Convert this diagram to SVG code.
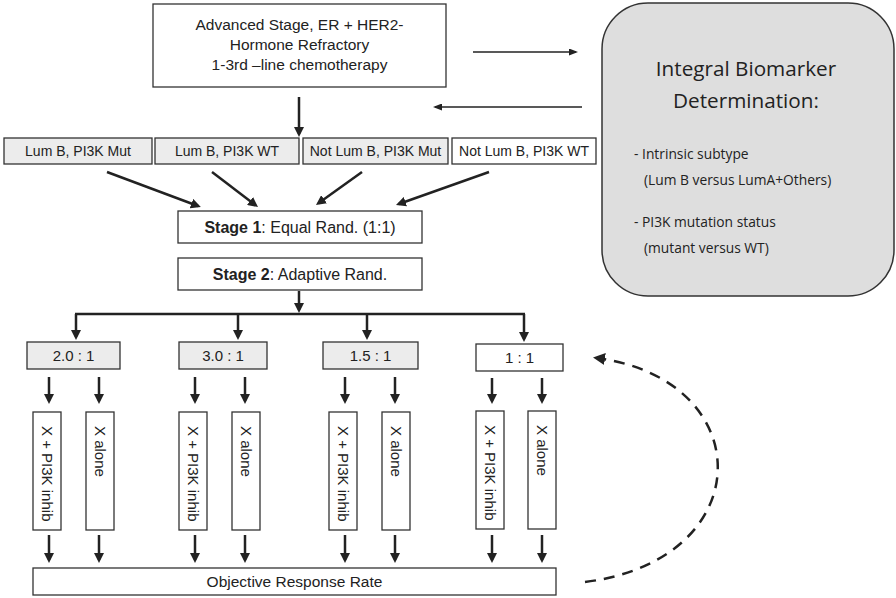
<svg xmlns="http://www.w3.org/2000/svg" width="896" height="598" viewBox="0 0 896 598">
<style>
.box{fill:#fff;stroke:#333;stroke-width:1.3}
.gbox{fill:#ececec;stroke:#333;stroke-width:1.3}
.t{font-family:"Liberation Sans",Arial,sans-serif;fill:#222;text-anchor:middle}
.vt{font-family:"Liberation Sans",Arial,sans-serif;fill:#222;text-anchor:start;font-size:15px}
.c{font-family:"Open Sans","Noto Sans",sans-serif;fill:#222}
.a{stroke:#222;stroke-width:2.5;fill:none;marker-end:url(#ah)}
.thin{stroke:#222;stroke-width:1.3;fill:none;marker-end:url(#ahs)}
.dash{stroke:#222;stroke-width:2.5;fill:none;stroke-dasharray:11 8;marker-end:url(#ahd)}
</style>
<defs>
<marker id="ah" markerUnits="userSpaceOnUse" markerWidth="10" markerHeight="10" viewBox="0 0 10 10" refX="7" refY="5" orient="auto"><path d="M0,0 L10,5 L0,10 z" fill="#222"/></marker>
<marker id="ahs" markerUnits="userSpaceOnUse" markerWidth="9" markerHeight="7" viewBox="0 0 9 7" refX="7" refY="3.5" orient="auto"><path d="M0,0 L9,3.5 L0,7 z" fill="#222"/></marker>
<marker id="ahd" markerUnits="userSpaceOnUse" markerWidth="12" markerHeight="12" viewBox="0 0 12 12" refX="8" refY="6" orient="auto"><path d="M0,0 L12,6 L0,12 z" fill="#222"/></marker>
</defs>

<g id="top">
<rect class="box" x="153" y="4" width="293" height="83"/>
<text class="t" x="299.5" y="30" font-size="15.5">Advanced Stage, ER + HER2-</text>
<text class="t" x="299.5" y="50" font-size="15.5">Hormone Refractory</text>
<text class="t" x="299.5" y="70" font-size="15.5">1-3rd –line chemotherapy</text>
</g>

<g id="biomarker">
<rect x="602" y="3" width="292" height="293" rx="46" ry="46" fill="#dedede" stroke="#333" stroke-width="1.5"/>
<text class="c" x="746" y="76" font-size="20.7" text-anchor="middle">Integral Biomarker</text>
<text class="c" x="746" y="108" font-size="20.7" text-anchor="middle">Determination:</text>
<text class="c" x="634" y="159" font-size="13.8">-  Intrinsic subtype</text>
<text class="c" x="644" y="185" font-size="13.8">(Lum B versus LumA+Others)</text>
<text class="c" x="634" y="227" font-size="13.8">-  PI3K mutation status</text>
<text class="c" x="644" y="253" font-size="13.8">(mutant versus WT)</text>
</g>

<g id="lum1"><rect class="gbox" x="4" y="138" width="148" height="26"/><text class="t" x="78" y="156" font-size="14">Lum B, PI3K Mut</text></g>
<g id="lum2"><rect class="gbox" x="155" y="138" width="144" height="26"/><text class="t" x="227" y="156" font-size="14">Lum B, PI3K WT</text></g>
<g id="lum3"><rect class="gbox" x="303" y="138" width="145" height="26"/><text class="t" x="375.5" y="156" font-size="14">Not Lum B, PI3K Mut</text></g>
<g id="lum4"><rect class="box" x="452" y="138" width="144" height="26"/><text class="t" x="524" y="156" font-size="14">Not Lum B, PI3K WT</text></g>

<g id="stage1"><rect class="box" x="178" y="211" width="244" height="32"/><text class="t" x="300" y="233" font-size="16"><tspan font-weight="bold">Stage 1</tspan>: Equal Rand. (1:1)</text></g>
<g id="stage2"><rect class="box" x="178" y="258" width="244" height="32"/><text class="t" x="300" y="280" font-size="16"><tspan font-weight="bold">Stage 2</tspan>: Adaptive Rand.</text></g>

<g id="r1"><rect class="gbox" x="27" y="342" width="93" height="27"/><text class="t" x="73.5" y="361" font-size="15">2.0 : 1</text></g>
<g id="r2"><rect class="gbox" x="179" y="342" width="88" height="27"/><text class="t" x="223" y="361" font-size="15">3.0 : 1</text></g>
<g id="r3"><rect class="gbox" x="323" y="342" width="95" height="27"/><text class="t" x="370.5" y="361" font-size="15">1.5 : 1</text></g>
<g id="r4"><rect class="box" x="476" y="344" width="87" height="27"/><text class="t" x="519.5" y="363" font-size="15">1 : 1</text></g>

<g id="v1"><rect class="box" x="33" y="412" width="28" height="118"/><text class="vt" transform="translate(47,426) rotate(90)" dy=".35em">X + PI3K inhib</text></g>
<g id="v2"><rect class="box" x="86" y="412" width="28" height="118"/><text class="vt" transform="translate(100,426) rotate(90)" dy=".35em">X alone</text></g>
<g id="v3"><rect class="box" x="179" y="412" width="28" height="118"/><text class="vt" transform="translate(193,426) rotate(90)" dy=".35em">X + PI3K inhib</text></g>
<g id="v4"><rect class="box" x="232" y="412" width="28" height="118"/><text class="vt" transform="translate(246,426) rotate(90)" dy=".35em">X alone</text></g>
<g id="v5"><rect class="box" x="329" y="412" width="28" height="118"/><text class="vt" transform="translate(343,426) rotate(90)" dy=".35em">X + PI3K inhib</text></g>
<g id="v6"><rect class="box" x="382" y="412" width="28" height="118"/><text class="vt" transform="translate(396,426) rotate(90)" dy=".35em">X alone</text></g>
<g id="v7"><rect class="box" x="476" y="411" width="28" height="118"/><text class="vt" transform="translate(490,425) rotate(90)" dy=".35em">X + PI3K inhib</text></g>
<g id="v8"><rect class="box" x="528" y="411" width="28" height="118"/><text class="vt" transform="translate(542,425) rotate(90)" dy=".35em">X alone</text></g>

<g id="orr"><rect class="box" x="33" y="568" width="523" height="27"/><text class="t" x="294.5" y="587" font-size="15.5">Objective Response Rate</text></g>

<g id="connectors">
<line class="thin" x1="473" y1="52" x2="576" y2="52"/>
<line class="thin" x1="582" y1="107" x2="435" y2="107"/>
<line class="a" x1="299" y1="97" x2="299" y2="134"/>
<line class="a" x1="107" y1="172" x2="198" y2="206"/>
<line class="a" x1="212" y1="172" x2="255.6" y2="205.2"/>
<line class="a" x1="362" y1="172" x2="318.4" y2="203.3"/>
<line class="a" x1="489" y1="172" x2="398.8" y2="204"/>
<line class="a" x1="299" y1="291" x2="299" y2="310"/>
<line x1="75" y1="314" x2="525" y2="314" stroke="#222" stroke-width="2.5"/>
<line class="a" x1="76" y1="314" x2="76" y2="337"/>
<line class="a" x1="238" y1="314" x2="238" y2="337"/>
<line class="a" x1="367" y1="314" x2="367" y2="337"/>
<line class="a" x1="524" y1="314" x2="524" y2="339"/>
<line class="a" x1="49" y1="377" x2="49" y2="401"/>
<line class="a" x1="99" y1="377" x2="99" y2="401"/>
<line class="a" x1="195" y1="377" x2="195" y2="401"/>
<line class="a" x1="245" y1="377" x2="245" y2="401"/>
<line class="a" x1="345" y1="377" x2="345" y2="401"/>
<line class="a" x1="395" y1="377" x2="395" y2="401"/>
<line class="a" x1="492" y1="378" x2="492" y2="401"/>
<line class="a" x1="542" y1="378" x2="542" y2="401"/>
<line class="a" x1="49" y1="535" x2="49" y2="560"/>
<line class="a" x1="99" y1="535" x2="99" y2="560"/>
<line class="a" x1="195" y1="535" x2="195" y2="560"/>
<line class="a" x1="245" y1="535" x2="245" y2="560"/>
<line class="a" x1="345" y1="535" x2="345" y2="560"/>
<line class="a" x1="395" y1="535" x2="395" y2="560"/>
<line class="a" x1="492" y1="535" x2="492" y2="560"/>
<line class="a" x1="542" y1="535" x2="542" y2="560"/>
<path class="dash" d="M585,582 C760,560 760,380 597,358"/>
</g>
</svg>
